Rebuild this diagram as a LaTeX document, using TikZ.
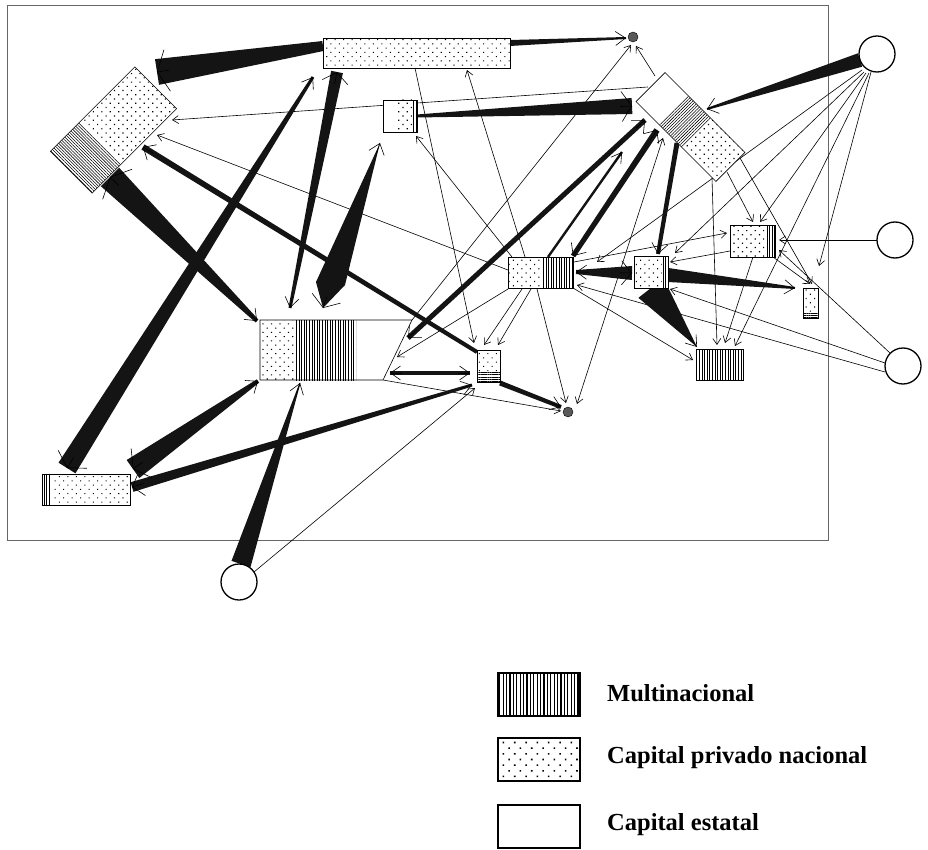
\documentclass[tikz,border=0pt]{standalone}
\usepackage{fontspec}
\setmainfont{Liberation Serif}
\usetikzlibrary{calc,patterns.meta,arrows.meta}
\pgfdeclarelayer{bg}
\pgfsetlayers{bg,main}
\newcommand\boxpart[4]{\fill[#4] ($(#1.north west)!#2!(#1.north east)$) -- ($(#1.north west)!#3!(#1.north east)$) -- ($(#1.south west)!#3!(#1.south east)$) -- ($(#1.south west)!#2!(#1.south east)$) -- cycle;}
\newcommand\boxband[4]{\fill[#4] ($(#1.north west)!#2!(#1.south west)$) -- ($(#1.north east)!#2!(#1.south east)$) -- ($(#1.north east)!#3!(#1.south east)$) -- ($(#1.north west)!#3!(#1.south west)$) -- cycle;}
\newcommand\boxoutline[1]{\draw[boxedge] (#1.north west) -- (#1.north east) -- (#1.south east) -- (#1.south west) -- cycle;}
\newcommand\flowwedge[4]{\fill[flow] ($(#1)!#3pt!90:(#2)$) -- ($(#1)!#3pt!-90:(#2)$) -- ($(#2)!#4pt!90:(#1)$) -- ($(#2)!#4pt!-90:(#1)$) -- cycle;}
\newcommand\flowhead[3]{\draw[flowtip,-{Straight Barb[length=10pt,width=#3pt]}] ($(#2)!12pt!(#1)$) -- (#2);}
\tikzset{
  box/.style={inner sep=0pt, outer sep=0pt, fill=white},
  boxedge/.style={line width=0.6pt, line join=miter},
  dotfill/.style={pattern={Dots[distance=6pt,radius=0.8pt,angle=45]}},
  bigdotfill/.style={pattern={Dots[distance=8pt,radius=1.1pt,angle=45]}},
  vfill/.style={pattern={Lines[angle=90,distance=2.6pt,line width=0.75pt]}},
  bigvfill/.style={pattern={Lines[angle=90,distance=3.4pt,line width=1.3pt]}},
  hfill/.style={pattern={Lines[angle=0,distance=2.2pt,line width=0.6pt]}},
  afill/.style={pattern={Lines[angle=135,distance=2.2pt,line width=0.55pt]}},
  efill/.style={pattern={Lines[angle=45,distance=2.2pt,line width=0.55pt]}},
  flow/.style={fill=black!92},
  flowtip/.style={line width=0.6pt, draw=black},
  thinarrow/.style={line width=0.6pt, -{Straight Barb[length=6pt,width=8pt]}},
  thinboth/.style={line width=0.6pt, {Straight Barb[length=6pt,width=8pt]}-{Straight Barb[length=6pt,width=8pt]}},
  extnode/.style={circle, draw, line width=1.3pt, minimum size=36pt, inner sep=0pt, fill=white},
  sinkdot/.style={circle, draw, fill=black!65, minimum size=10pt, inner sep=0pt},
  borderline/.style={line width=0.9pt, draw=black!60},
  legendbox/.style={line width=1.4pt},
  legendtext/.style={anchor=west, font=\fontsize{24.5}{28}\selectfont\bfseries, inner sep=0pt},
}
\begin{document}
\begin{tikzpicture}[x=1pt,y=-1pt]
\useasboundingbox (0,0) rectangle (928,850);
% ---------- firms ----------
\node[box, minimum width=119.5pt, minimum height=59pt, rotate=45] (A) at (113.5,130) {};
\boxpart{A}{0}{0.35}{afill}\boxpart{A}{0.35}{1}{dotfill}\boxoutline{A}
\node[box, minimum width=187pt, minimum height=30pt] (B) at (416.5,53) {};
\boxpart{B}{0}{1}{dotfill}\boxoutline{B}
\node[box, minimum width=34pt, minimum height=32pt] (C) at (400,116) {};
\boxpart{C}{0.44}{0.85}{dotfill}\boxpart{C}{0.85}{1}{vfill}\boxoutline{C}
\node[box, minimum width=113pt, minimum height=41pt, rotate=-45] (E) at (690.5,127) {};
\boxpart{E}{0.28}{0.58}{efill}\boxpart{E}{0.58}{1}{dotfill}\boxoutline{E}
\node[box, minimum width=45pt, minimum height=32pt] (F) at (752.5,241) {};
\boxpart{F}{0}{0.78}{dotfill}\boxpart{F}{0.78}{1}{vfill}\boxoutline{F}
\node[box, minimum width=65pt, minimum height=31pt] (G) at (540.5,272.5) {};
\boxpart{G}{0}{0.52}{dotfill}\boxpart{G}{0.52}{1}{vfill}\boxoutline{G}
\node[box, minimum width=34pt, minimum height=32pt] (H) at (651,272) {};
\boxpart{H}{0}{0.82}{dotfill}\boxpart{H}{0.82}{1}{vfill}\boxoutline{H}
\node[box, minimum width=15pt, minimum height=30pt] (I) at (810.5,303) {};
\boxband{I}{0}{0.8}{dotfill}\boxband{I}{0.8}{1}{hfill}\boxoutline{I}
\node[box, minimum width=47pt, minimum height=31pt] (J) at (719.5,364.5) {};
\boxpart{J}{0}{1}{vfill}\boxoutline{J}
\node[inner sep=0pt, outer sep=0pt, minimum width=152pt, minimum height=60pt] (K) at (336,350) {};
\fill[white] (K.north west) -- (K.north east) -- ($(K.south east)+(-29,0)$) -- (K.south west) -- cycle;
\boxpart{K}{0}{0.23}{dotfill}\boxpart{K}{0.23}{0.632}{vfill}
\draw[boxedge] (K.north west) -- (K.north east) -- ($(K.south east)+(-29,0)$) -- (K.south west) -- cycle;
\node[box, minimum width=23pt, minimum height=32pt] (L) at (488.5,366) {};
\boxband{L}{0}{0.68}{dotfill}\boxband{L}{0.68}{1}{hfill}\boxoutline{L}
\node[box, minimum width=88pt, minimum height=31pt] (M) at (86,489.5) {};
\boxpart{M}{0}{0.11}{vfill}\boxpart{M}{0.11}{1}{dotfill}\boxoutline{M}
% ---------- sinks and outside sources ----------
\node[sinkdot] (D1) at (633,37) {};
\node[sinkdot] (D2) at (568,412) {};
\node[extnode] (O1) at (877,54) {};
\node[extnode] (O2) at (895,240) {};
\node[extnode] (O3) at (903,366) {};
\node[extnode] (O4) at (239,582) {};
% ---------- legend ----------
\node[box, minimum width=82pt, minimum height=43pt] (LG1) at (539,694.5) {};
\boxpart{LG1}{0}{1}{bigvfill}\draw[legendbox] (LG1.north west) rectangle (LG1.south east);
\node[box, minimum width=82pt, minimum height=43pt] (LG2) at (539,759.5) {};
\boxpart{LG2}{0}{1}{bigdotfill}\draw[legendbox] (LG2.north west) rectangle (LG2.south east);
\node[box, minimum width=82pt, minimum height=43pt] (LG3) at (539,826.5) {};
\draw[legendbox] (LG3.north west) rectangle (LG3.south east);
\node[legendtext] (LT1) at (607,693) {Multinacional};
\node[legendtext] (LT2) at (607,758) {Capital privado nacional};
\node[legendtext] (LT3) at (607,825) {Capital estatal};
% ---------- connectors ----------
\begin{pgfonlayer}{bg}
\draw[borderline] (7,5) rectangle (828,540);
% thin arrows
\draw[thinarrow] ($(E)+(-42.5,-40)$) -- ($(A)+(58.5,-10)$);
\draw[thinarrow] ($(G)+(-32.5,-2.5)$) -- ($(A)+(43.5,5)$);
\draw[thinarrow] ($(G)+(-28.5,-15.5)$) -- ($(C)+(16,20)$);
\draw[thinarrow] ($(B)+(-1.5,15)$) -- ($(L)+(-14.5,-23)$);
\draw[thinarrow] ($(G)+(-15.5,-15.5)$) -- ($(B)+(50.5,17)$);
\draw[thinarrow] ($(G)+(-3.5,16.5)$) -- ($(D2)+(-2,-9)$);
\draw[thinboth] ($(E)+(-27.5,11)$) -- ($(D2)+(9,-8)$);
\draw[thinarrow] ($(K)+(47,30)$) -- ($(D2)+(-7,-1)$);
\draw[thinarrow] (K.north east) -- ($(D1)+(-2,8)$);
\draw[thinarrow] ($(E)+(-35.5,-51)$) -- ($(D1)+(3,9)$);
\draw[thinarrow] ($(G)+(-18.5,16.5)$) -- ($(L)+(-4.5,-21)$);
\draw[thinarrow] ($(G)+(-9.5,16.5)$) -- ($(L)+(9.5,-21)$);
\draw[thinarrow] ($(G)+(-32.5,16.5)$) -- ($(K)+(61,7)$);
\draw[thinarrow] ($(O4)+(15,-10)$) -- ($(L)+(-13.5,22)$);
\draw[thinarrow] ($(G)+(33.5,-10.5)$) -- ($(F)+(-25.5,-8)$);
\draw[thinarrow] ($(F)+(-22.5,10)$) -- ($(H)+(19,-10)$);
\draw[thinarrow] ($(F)+(0.5,16)$) -- ($(J)+(5.5,-21.5)$);
\draw[thinarrow] ($(G)+(32.5,15.5)$) -- ($(J)+(-26.5,-4.5)$);
\draw[thinarrow] ($(O3)+(-18,-3)$) -- ($(H)+(19,17)$);
\draw[thinarrow] ($(O3)+(-18,6)$) -- ($(G)+(36.5,12.5)$);
\draw[thinarrow] ($(O2)+(-18,0)$) -- ($(F)+(26.5,-1)$);
\draw[thinarrow] ($(O3)+(-13,-13)$) -- ($(F)+(26.5,9)$);
\draw[thinarrow] ($(F)+(20.5,16)$) -- ($(I)+(-0.5,-19)$);
\draw[thinarrow] ($(E)+(21.5,51)$) -- ($(J)+(-2.5,-19.5)$);
\draw[thinarrow] ($(E)+(36.5,45)$) -- ($(F)+(0.5,-19)$);
\draw[thinarrow] ($(E)+(49.5,31)$) -- ($(I)+(1.5,-19)$);
\draw[thinarrow] ($(O1)+(-15,16)$) -- ($(G)+(56.5,-10.5)$);
\draw[thinarrow] ($(O1)+(-13,18)$) -- ($(H)+(24,-19)$);
\draw[thinarrow] ($(O1)+(-11,19)$) -- ($(F)+(7.5,-19)$);
\draw[thinarrow] ($(O1)+(-8,19)$) -- ($(J)+(15.5,-18.5)$);
\draw[thinarrow] ($(O1)+(-6,18)$) -- ($(I)+(8.5,-37)$);
% thick flows
\coordinate (w1s) at ($(B)+(-93.5,-7)$); \coordinate (w1t) at ($(A)+(43.5,-58)$);
\flowwedge{w1s}{w1t}{5}{13}\flowhead{w1s}{w1t}{42}
\coordinate (w2s) at ($(B)+(93.5,-10)$); \coordinate (w2t) at ($(D1)+(-7,1)$);
\flowwedge{w2s}{w2t}{3}{1}\flowhead{w2s}{w2t}{14}
\coordinate (w3s) at ($(C)+(17,0)$); \coordinate (w3t) at ($(E)+(-58.5,-21)$);
\flowwedge{w3s}{w3t}{1.5}{8}\flowhead{w3s}{w3t}{30}
\coordinate (w4s) at ($(O1)+(-17,6)$); \coordinate (w4t) at ($(E)+(16.5,-18)$);
\flowwedge{w4s}{w4t}{7}{1}\flowhead{w4s}{w4t}{16}
\coordinate (w5s) at ($(K)+(-79,-29)$); \coordinate (w5t) at ($(A)+(-3.5,47)$);
\flowwedge{w5s}{w5t}{2}{13}\flowhead{w5s}{w5t}{42}\flowhead{w5t}{w5s}{16}
\coordinate (w6s) at ($(M)+(-19,-21.5)$); \coordinate (w6t) at ($(B)+(-103.5,24)$);
\flowwedge{w6s}{w6t}{10}{1.5}\flowhead{w6t}{w6s}{34}\flowhead{w6s}{w6t}{14}
\coordinate (w7s) at ($(B)+(-79.5,19)$); \coordinate (w7t) at ($(K)+(-46,-42)$);
\flowwedge{w7s}{w7t}{6}{1.5}\flowhead{w7t}{w7s}{26}\flowhead{w7s}{w7t}{14}
\coordinate (w8b) at ($(K)+(-13,-42)$); \coordinate (w8l) at ($(K)+(-20,-68)$);
\coordinate (w8r) at ($(K)+(9,-65)$); \coordinate (w8t) at ($(C)+(-20,27)$);
\fill[flow] (w8b) -- (w8l) -- (w8t) -- (w8r) -- cycle;
\flowhead{w8b}{w8t}{16}\flowhead{w8t}{w8b}{30}
\coordinate (w9s) at ($(L)+(-11.5,-14)$); \coordinate (w9t) at ($(A)+(29.5,17)$);
\flowwedge{w9s}{w9t}{2}{3}\flowhead{w9s}{w9t}{18}
\coordinate (w10s) at ($(E)+(-45.5,-7)$); \coordinate (w10t) at ($(K)+(72,-12)$);
\flowwedge{w10s}{w10t}{2.5}{2.5}\flowhead{w10s}{w10t}{18}\flowhead{w10t}{w10s}{18}
\coordinate (w11s) at ($(G)+(7.5,-15.5)$); \coordinate (w11t) at ($(E)+(-68.5,25)$);
\flowwedge{w11s}{w11t}{1.2}{1.2}\flowhead{w11s}{w11t}{12}
\coordinate (w12s) at ($(G)+(32.5,-16.5)$); \coordinate (w12t) at ($(E)+(-33.5,3)$);
\flowwedge{w12s}{w12t}{2.5}{3}\flowhead{w12s}{w12t}{18}\flowhead{w12t}{w12s}{18}
\coordinate (w13s) at ($(E)+(-13.5,16)$); \coordinate (w13t) at ($(H)+(7,-18)$);
\flowwedge{w13s}{w13t}{2.5}{2}\flowhead{w13s}{w13t}{16}
\coordinate (w14s) at ($(K)+(54,23)$); \coordinate (w14t) at ($(L)+(-18.5,7)$);
\flowwedge{w14s}{w14t}{2}{2}\flowhead{w14s}{w14t}{14}\flowhead{w14t}{w14s}{14}
\coordinate (w15s) at ($(L)+(11.5,17)$); \coordinate (w15t) at ($(D2)+(-7,-5)$);
\flowwedge{w15s}{w15t}{2.5}{2}\flowhead{w15s}{w15t}{14}
\coordinate (w16s) at ($(M)+(46,-2.5)$); \coordinate (w16t) at ($(L)+(-16.5,19)$);
\flowwedge{w16s}{w16t}{5}{1.5}\flowhead{w16t}{w16s}{24}\flowhead{w16s}{w16t}{14}
\coordinate (w17s) at ($(O4)+(2,-18)$); \coordinate (w17t) at ($(K)+(-36,33)$);
\flowwedge{w17s}{w17t}{10}{0.5}\flowhead{w17s}{w17t}{14}
\coordinate (w18s) at ($(K)+(-78,31)$); \coordinate (w18t) at ($(M)+(47,-20.5)$);
\flowwedge{w18s}{w18t}{2}{11}\flowhead{w18s}{w18t}{36}\flowhead{w18t}{w18s}{16}
\coordinate (w19s) at ($(G)+(35.5,-0.5)$); \coordinate (w19t) at ($(H)+(-19,1)$);
\flowwedge{w19s}{w19t}{2}{7}\flowhead{w19s}{w19t}{24}\flowhead{w19t}{w19s}{14}
\coordinate (w20s) at ($(H)+(17,3)$); \coordinate (w20t) at ($(I)+(-15.5,-15)$);
\flowwedge{w20s}{w20t}{7}{1}\flowhead{w20s}{w20t}{14}
\coordinate (w21s) at ($(H)+(0,16)$); \coordinate (w21t) at ($(J)+(-22.5,-17.5)$);
\flowwedge{w21s}{w21t}{16}{0}\flowhead{w21s}{w21t}{14}
\end{pgfonlayer}
\end{tikzpicture}
\end{document}
